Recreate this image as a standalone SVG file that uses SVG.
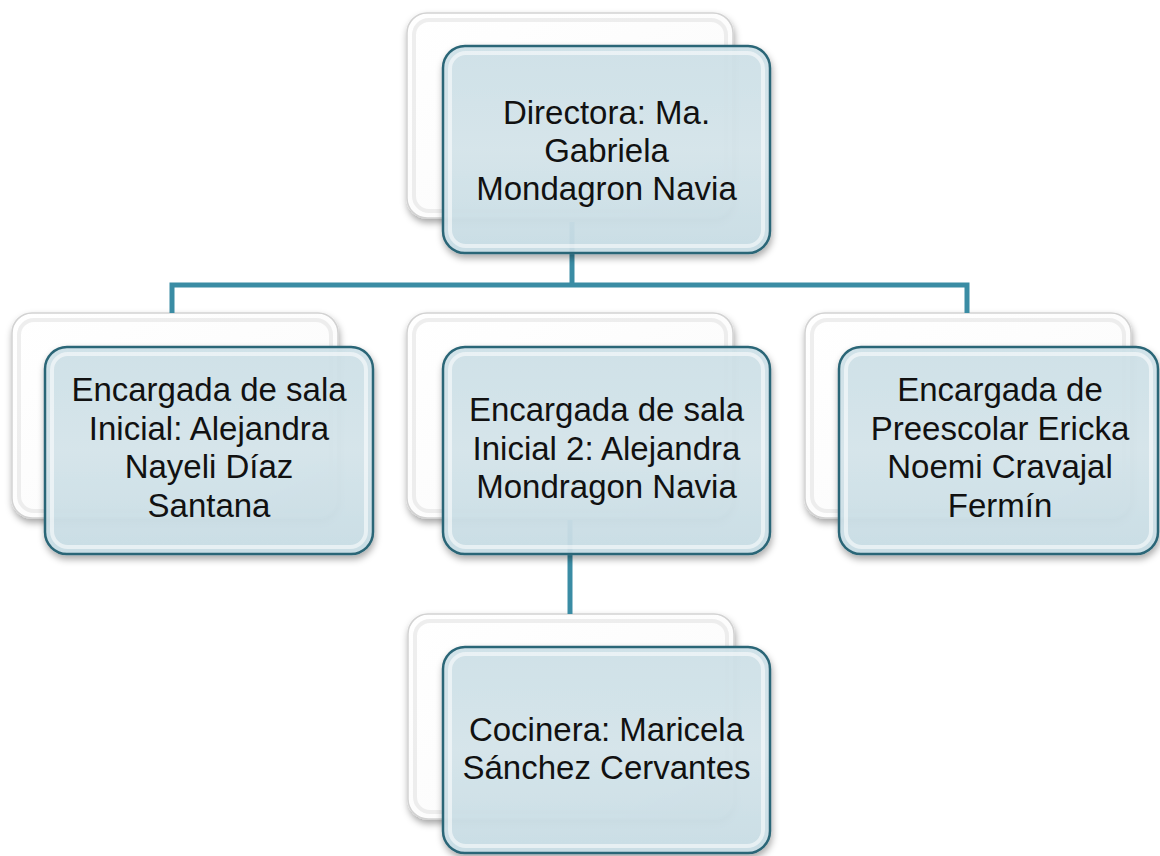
<svg xmlns="http://www.w3.org/2000/svg" width="1160" height="856" viewBox="0 0 1160 856">
<defs>
  <linearGradient id="gFront" x1="0" y1="0" x2="0" y2="1">
    <stop offset="0" stop-color="#CFE2E9"/>
    <stop offset="0.5" stop-color="#D6E6EC"/>
    <stop offset="1" stop-color="#C9DEE6"/>
  </linearGradient>
  <linearGradient id="gBack" x1="0" y1="0" x2="1" y2="1">
    <stop offset="0" stop-color="#FFFFFF"/>
    <stop offset="0.8" stop-color="#FBFBFB"/>
    <stop offset="1" stop-color="#E8E8E8"/>
  </linearGradient>
  <filter id="shadow" x="-10%" y="-10%" width="125%" height="130%">
    <feDropShadow dx="1" dy="4" stdDeviation="3.5" flood-color="#000000" flood-opacity="0.35"/>
  </filter>
</defs>
<style>
  .back { fill: url(#gBack); stroke: #D2D2D2; stroke-width: 1.5; filter: url(#shadow); }
  .backBevel { fill: none; stroke: #E2E2E2; stroke-width: 4; stroke-opacity: 0.6; }
  .front { fill: url(#gFront); fill-opacity: 0.93; stroke: #2C6677; stroke-width: 2.5; filter: url(#shadow); }
  .bevel { fill: none; stroke: #FFFFFF; stroke-width: 4; stroke-opacity: 0.55; }
  .conn { fill: none; stroke: #3A8CA4; stroke-width: 5; }
  .lbl { font-family: "Liberation Sans", Arial, sans-serif; font-size: 33px; fill: #111111; text-anchor: middle; }
</style>
<rect width="1160" height="856" fill="#FFFFFF"/>

<!-- back boxes -->
<g id="backs">
  <rect class="back" x="407" y="13" width="326" height="205" rx="20"/>
  <rect class="backBevel" x="414" y="20" width="312" height="191" rx="15"/>
  <rect class="back" x="12" y="313" width="326" height="205" rx="20"/>
  <rect class="backBevel" x="19" y="320" width="312" height="191" rx="15"/>
  <rect class="back" x="407" y="313" width="326" height="205" rx="20"/>
  <rect class="backBevel" x="414" y="320" width="312" height="191" rx="15"/>
  <rect class="back" x="805" y="313" width="326" height="205" rx="20"/>
  <rect class="backBevel" x="812" y="320" width="312" height="191" rx="15"/>
  <rect class="back" x="408" y="614" width="326" height="205" rx="20"/>
  <rect class="backBevel" x="415" y="621" width="312" height="191" rx="15"/>
</g>

<g id="connectors">
  <path class="conn" d="M572,222 V285"/>
  <path class="conn" d="M172,313 V285 H967 V313"/>
  <path class="conn" d="M570,520 V614"/>
</g>

<g id="node-directora">
  <rect class="front" x="443" y="46" width="327" height="207" rx="22"/>
  <rect class="bevel" x="450" y="53" width="313" height="193" rx="16"/>
  <text class="lbl" x="606.5" y="124">Directora: Ma.</text>
  <text class="lbl" x="606.5" y="162">Gabriela</text>
  <text class="lbl" x="606.5" y="200">Mondagron Navia</text>
</g>

<g id="node-inicial">
  <rect class="front" x="45" y="347" width="328" height="207" rx="22"/>
  <rect class="bevel" x="52" y="354" width="314" height="193" rx="16"/>
  <text class="lbl" x="209" y="401">Encargada de sala</text>
  <text class="lbl" x="209" y="440">Inicial: Alejandra</text>
  <text class="lbl" x="209" y="478">Nayeli Díaz</text>
  <text class="lbl" x="209" y="517">Santana</text>
</g>

<g id="node-inicial2">
  <rect class="front" x="443" y="347" width="327" height="207" rx="22"/>
  <rect class="bevel" x="450" y="354" width="313" height="193" rx="16"/>
  <text class="lbl" x="606.5" y="421">Encargada de sala</text>
  <text class="lbl" x="606.5" y="460">Inicial 2: Alejandra</text>
  <text class="lbl" x="606.5" y="498">Mondragon Navia</text>
</g>

<g id="node-preescolar">
  <rect class="front" x="839" y="347" width="319" height="207" rx="22"/>
  <rect class="bevel" x="846" y="354" width="305" height="193" rx="16"/>
  <text class="lbl" x="1000" y="401">Encargada de</text>
  <text class="lbl" x="1000" y="440">Preescolar Ericka</text>
  <text class="lbl" x="1000" y="478">Noemi Cravajal</text>
  <text class="lbl" x="1000" y="517">Fermín</text>
</g>

<g id="node-cocinera">
  <rect class="front" x="443" y="647" width="327" height="206" rx="22"/>
  <rect class="bevel" x="450" y="654" width="313" height="192" rx="16"/>
  <text class="lbl" x="606.5" y="741">Cocinera: Maricela</text>
  <text class="lbl" x="606.5" y="779">Sánchez Cervantes</text>
</g>
</svg>
